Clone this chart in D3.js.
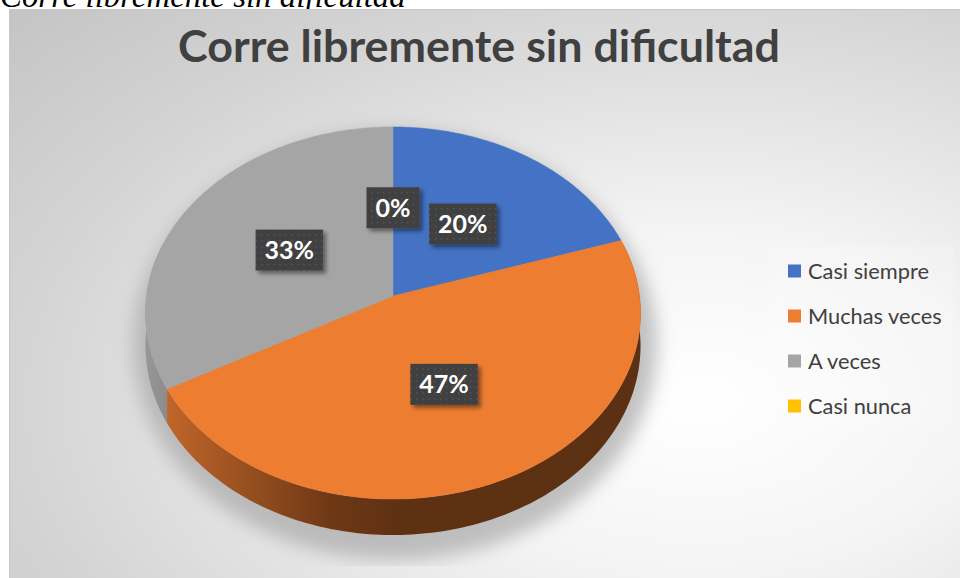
<!DOCTYPE html>
<html>
<head>
<meta charset="utf-8">
<script src="https://cdn.jsdelivr.net/npm/d3@7"></script>
<style>
  body { margin: 0; background: #fff; }
  svg { display: block; }
</style>
</head>
<body>
<div id="chart"></div>
<script>
// Pie chart data
var categories = ["Casi siempre", "Muchas veces", "A veces", "Casi nunca"];
var percentages = [20, 47, 33, 0];
var sliceColors = ["#4472c4", "#ed7d31", "#a5a5a5", "#ffc000"];
var titleText = "Corre libremente sin dificultad";
var captionText = "Corre libremente sin dificultad";

var width = 960, height = 578;

var svg = d3.select("#chart")
    .append("svg")
    .attr("width", width)
    .attr("height", height);

var defs = svg.append("defs");

// background gradient of the chart box
var bg = defs.append("radialGradient")
    .attr("id", "bgGrad")
    .attr("gradientUnits", "userSpaceOnUse")
    .attr("cx", 700).attr("cy", 400).attr("r", 950)
    .attr("gradientTransform", "translate(700,400) scale(1,0.6) translate(-700,-400)");
bg.append("stop").attr("offset", 0).attr("stop-color", "#ffffff");
bg.append("stop").attr("offset", 0.3).attr("stop-color", "#f4f4f4");
bg.append("stop").attr("offset", 0.72).attr("stop-color", "#d4d4d4");
bg.append("stop").attr("offset", 1).attr("stop-color", "#c4c4c4");

// side wall gradient for the orange slice
var wallGrad = defs.append("linearGradient")
    .attr("id", "wallOrange")
    .attr("gradientUnits", "userSpaceOnUse")
    .attr("x1", 165).attr("x2", 640).attr("y1", 0).attr("y2", 0);
wallGrad.append("stop").attr("offset", 0).attr("stop-color", "#c0662a");
wallGrad.append("stop").attr("offset", 0.35).attr("stop-color", "#6e3815");
wallGrad.append("stop").attr("offset", 0.5).attr("stop-color", "#5e3113");
wallGrad.append("stop").attr("offset", 1).attr("stop-color", "#5c3012");

var wallGray = defs.append("linearGradient")
    .attr("id", "wallGray")
    .attr("gradientUnits", "userSpaceOnUse")
    .attr("x1", 140).attr("x2", 180).attr("y1", 0).attr("y2", 0);
wallGray.append("stop").attr("offset", 0).attr("stop-color", "#9a9a9a");
wallGray.append("stop").attr("offset", 1).attr("stop-color", "#858585");

// dotted pattern for the label boxes
var pat = defs.append("pattern")
    .attr("id", "dots")
    .attr("patternUnits", "userSpaceOnUse")
    .attr("width", 6).attr("height", 6);
pat.append("rect").attr("width", 6).attr("height", 6).attr("fill", "#404040");
pat.append("rect").attr("x", 2).attr("y", 2).attr("width", 1.4).attr("height", 1.4).attr("fill", "#5a5a5a");

var blur = defs.append("filter").attr("id", "pieShadow")
    .attr("x", -0.2).attr("y", -0.2).attr("width", 1.4).attr("height", 1.4);
blur.append("feGaussianBlur").attr("stdDeviation", 9);

var drop = defs.append("filter").attr("id", "boxShadow")
    .attr("x", -0.3).attr("y", -0.3).attr("width", 1.6).attr("height", 1.6);
drop.append("feDropShadow")
    .attr("dx", 3).attr("dy", 3).attr("stdDeviation", 2)
    .attr("flood-color", "#000").attr("flood-opacity", 0.45);

defs.append("clipPath").attr("id", "shadowClip")
    .append("rect").attr("x", 0).attr("y", 0).attr("width", width).attr("height", 566);

// caption above the chart (cut at the top, as in the picture)
var caption = svg.append("text")
    .attr("x", 0)
    .attr("y", 7)
    .attr("font-family", "Liberation Serif, Times New Roman, serif")
    .attr("font-style", "italic")
    .attr("font-size", 26)
    .attr("fill", "#000")
    .text(captionText);
fitText(caption, 406);

// chart box
svg.append("rect")
    .attr("x", 9.5).attr("y", 9.5)
    .attr("width", 952).attr("height", 572)
    .attr("fill", "url(#bgGrad)")
    .attr("stroke", "#c8c8c8")
    .attr("stroke-width", 1);

// title
var title = svg.append("text")
    .attr("x", 479)
    .attr("y", 62)
    .attr("text-anchor", "middle")
    .attr("font-family", "Lato, Open Sans, sans-serif")
    .attr("font-weight", "bold")
    .attr("font-size", 44)
    .attr("fill", "#404040")
    .text(titleText);
fitText(title, 602);

// ---- 3D pie ----
var CX = 393, CY = 296;   // centre of the top face
var A = 246.5, B = 184.5; // half axes
var K = 0.0913;           // perspective strength
var DEPTH = 32.7;         // thickness

function proj(theta, r, dropY) {
    var u = r * Math.sin(theta);
    var v = -r * Math.cos(theta);
    var p = 1 / (1 - K * v);
    return [CX + A * u * p, CY + (B * v + dropY) * p];
}

var pie = d3.pie().sort(null).startAngle(0).endAngle(2 * Math.PI);
var arcs = pie(percentages);

// soft shadow under the pie
svg.append("g")
    .attr("clip-path", "url(#shadowClip)")
    .append("path")
    .attr("d", function() {
        var pts = d3.range(0, 361, 4).map(function(a) {
            var t = a * Math.PI / 180;
            return [CX + 2 + 262 * Math.sin(t), 345 - 215 * Math.cos(t)];
        });
        return d3.line()(pts) + "Z";
    })
    .attr("fill", "#a8a8a8")
    .attr("opacity", 0.7)
    .attr("filter", "url(#pieShadow)");

function samples(t0, t1) {
    var n = Math.max(2, Math.ceil((t1 - t0) / 0.02));
    return d3.range(n + 1).map(function(i) { return t0 + (t1 - t0) * i / n; });
}

// side walls (only the near half can be seen)
var visLo = Math.PI / 2 - 0.3, visHi = 3 * Math.PI / 2 + 0.3;
var wallFills = ["#2f4f8a", "url(#wallOrange)", "url(#wallGray)", "#b38600"];

svg.append("g").selectAll("path")
    .data(arcs.filter(function(d) {
        return d.endAngle > visLo && d.startAngle < visHi && d.endAngle > d.startAngle;
    }))
    .enter()
    .append("path")
    .attr("d", function(d) {
        var t0 = Math.max(d.startAngle, visLo);
        var t1 = Math.min(d.endAngle, visHi);
        var ts = samples(t0, t1);
        var top = ts.map(function(t) { return proj(t, 1, 0); });
        var bot = ts.slice().reverse().map(function(t) { return proj(t, 1, DEPTH); });
        return d3.line()(top.concat(bot)) + "Z";
    })
    .attr("fill", function(d) { return wallFills[d.index]; });

// top faces
svg.append("g").selectAll("path")
    .data(arcs.filter(function(d) { return d.endAngle > d.startAngle; }))
    .enter()
    .append("path")
    .attr("d", function(d) {
        var pts = [proj(0, 0, 0)].concat(samples(d.startAngle, d.endAngle).map(function(t) {
            return proj(t, 1, 0);
        }));
        return d3.line()(pts) + "Z";
    })
    .attr("fill", function(d) { return sliceColors[d.index]; })
    .attr("stroke", function(d) { return sliceColors[d.index]; })
    .attr("stroke-width", 0.5);

// data labels
var labels = svg.append("g").selectAll("g")
    .data(arcs)
    .enter()
    .append("g")
    .attr("transform", function(d) {
        var c = proj((d.startAngle + d.endAngle) / 2, 0.5, 0);
        return "translate(" + c[0] + "," + c[1] + ")";
    });

labels.append("rect").attr("class", "lblBox");
labels.append("text")
    .attr("text-anchor", "middle")
    .attr("dy", "0.36em")
    .attr("font-family", "Lato, Open Sans, sans-serif")
    .attr("font-weight", "bold")
    .attr("font-size", 25)
    .attr("fill", "#ffffff")
    .text(function(d) { return d.data + "%"; });

labels.each(function() {
    var g = d3.select(this);
    var w = g.select("text").node().getComputedTextLength() + 18;
    g.select("rect")
        .attr("x", -w / 2).attr("y", -20.5)
        .attr("width", w).attr("height", 41)
        .attr("fill", "url(#dots)")
        .attr("filter", "url(#boxShadow)");
});

// legend
var legend = svg.append("g");
legend.append("rect")
    .attr("x", 770).attr("y", 247)
    .attr("width", 183).attr("height", 181)
    .attr("fill", "#ffffff")
    .attr("opacity", 0.18);

var legY = d3.scalePoint().domain(categories).range([271, 406]);

var items = legend.selectAll("g")
    .data(categories)
    .enter()
    .append("g")
    .attr("transform", function(d) { return "translate(788," + legY(d) + ")"; });

items.append("rect")
    .attr("x", 0).attr("y", -6.5)
    .attr("width", 13).attr("height", 13)
    .attr("fill", function(d, i) { return sliceColors[i]; });

var legText = items.append("text")
    .attr("x", 20)
    .attr("dy", "0.36em")
    .attr("font-family", "Lato, Open Sans, sans-serif")
    .attr("font-size", 20)
    .attr("fill", "#404040")
    .text(function(d) { return d; });

// size the legend font so "Casi siempre" matches the picture
var firstW = legText.nodes()[0].getComputedTextLength();
legText.attr("font-size", 20 * 121 / firstW);

function fitText(sel, target) {
    var w = sel.node().getComputedTextLength();
    var fs = parseFloat(sel.attr("font-size"));
    sel.attr("font-size", fs * target / w);
}
</script>
</body>
</html>
